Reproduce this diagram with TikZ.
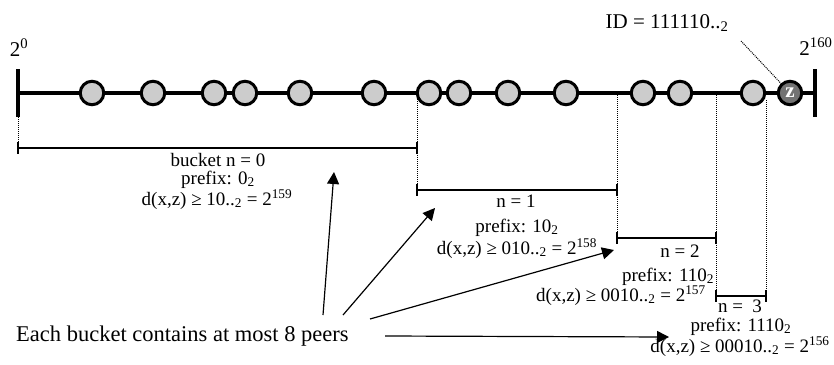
\documentclass[tikz,border=0pt]{standalone}
\usepackage{fontspec}
\setmainfont{Liberation Serif}
\usetikzlibrary{arrows.meta}
\begin{document}
\begin{tikzpicture}[x=1pt,y=-1pt,
  peer/.style={circle,draw=black,line width=3pt,fill=black!20,minimum size=23.5pt,inner sep=0pt},
  zpeer/.style={peer,fill=black!55,text=white,font=\fontsize{21}{21}\selectfont\bfseries},
  axis/.style={line width=3.4pt},
  bar/.style={line width=2.4pt},
  guide/.style={densely dotted,line width=1pt},
  lbl/.style={inner sep=0pt,anchor=base,font=\fontsize{19}{20}\selectfont},
  big/.style={inner sep=0pt,anchor=base,font=\fontsize{21}{24}\selectfont},
  pointer/.style={line width=1.2pt,-{Triangle[length=12pt,width=12pt]}}
]
\useasboundingbox (0,0) rectangle (834,364);
% axis
\coordinate (L) at (18,93);
\coordinate (R) at (815,93);
\draw[axis] (18,69) -- (18,117);
\draw[axis] (815,69) -- (815,117);
\draw[axis] (L) -- (R);
% peers
\foreach \x [count=\i] in {92,153,214,245,300,374,429,459,508,566,643,680,753}
  \node[peer] (c\i) at (\x,93) {};
\node[zpeer] (z) at (790,93) {z};
% end labels
\node[big] (e0) at (19,56) {2\textsuperscript{0}};
\node[big] (e160) at (816,55) {2\textsuperscript{160}};
\node[big] (id) at (667,28) {ID = 111110..\textsubscript{2}};
\draw[guide] (741,41) -- (z);
% guides
\draw[guide] (18,117) -- (18,148);
\draw[guide] (417,95) -- (417,190);
\draw[guide] (617,95) -- (617,238);
\draw[guide] (716,95) -- (716,296);
\draw[guide] (766,100) -- (766,296);
% bucket bars
\draw[bar] (18,142) -- (18,154) (18,148) -- (417,148) (417,142) -- (417,154);
\draw[bar] (417,184) -- (417,196) (417,190) -- (617,190) (617,184) -- (617,196);
\draw[bar] (617,232) -- (617,244) (617,238) -- (716,238) (716,232) -- (716,244);
\draw[bar] (716,290) -- (716,302) (716,296) -- (766,296) (766,290) -- (766,302);
% bucket labels
\node[lbl] (b0a) at (218,166) {bucket n = 0};
\node[lbl] (b0b) at (218,184) {prefix: 0\textsubscript{2}};
\node[lbl] (b0c) at (217,205) {d(x,z) ≥ 10..\textsubscript{2} = 2\textsuperscript{159}};
\node[lbl] (b1a) at (516,207) {n = 1};
\node[lbl] (b1b) at (517,232) {prefix: 10\textsubscript{2}};
\node[lbl] (b1c) at (517,254) {d(x,z) ≥ 010..\textsubscript{2} = 2\textsuperscript{158}};
\node[lbl] (b2a) at (680,257) {n = 2};
\node[lbl] (b2b) at (668,281) {prefix: 110\textsubscript{2}};
\node[lbl] (b2c) at (621,301) {d(x,z) ≥ 0010..\textsubscript{2} = 2\textsuperscript{157}};
\node[lbl] (b3a) at (740,312) {n =\ \ 3};
\node[lbl] (b3b) at (741,331) {prefix: 1110\textsubscript{2}};
\node[lbl] (b3c) at (740,352) {d(x,z) ≥ 00010..\textsubscript{2} = 2\textsuperscript{156}};
% note and pointers
\node[inner sep=0pt,anchor=base west,font=\fontsize{22.5}{26}\selectfont] (note) at (16,341) {Each bucket contains at most 8 peers};
\coordinate (t0) at (334,172);
\coordinate (t1) at (435,208);
\coordinate (t2) at (614,250);
\coordinate (t3) at (669,337);
\coordinate (s0) at (323,315);
\coordinate (s1) at (343,315);
\coordinate (s2) at (370,319);
\coordinate (s3) at (385,336);
\draw[pointer] (s0) -- (t0);
\draw[pointer] (s1) -- (t1);
\draw[pointer] (s2) -- (t2);
\draw[pointer] (s3) -- (t3);
\end{tikzpicture}
\end{document}
